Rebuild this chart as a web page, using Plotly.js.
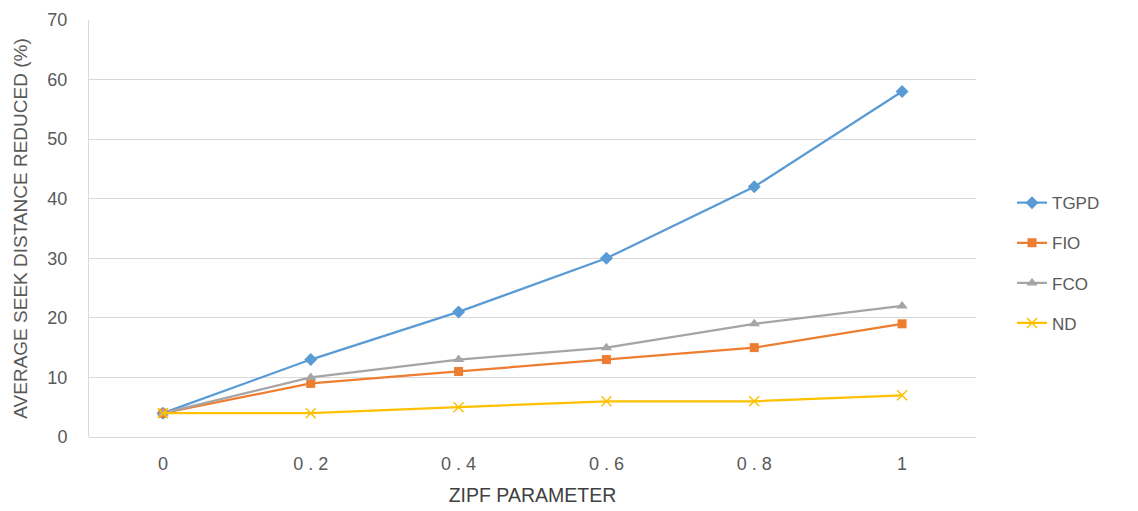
<!DOCTYPE html>
<html>
<head>
<meta charset="utf-8">
<script src="https://cdn.plot.ly/plotly-3.0.1.min.js"></script>
<style>html,body{margin:0;padding:0;background:#fff;}#chart{width:1138px;height:511px;}</style>
</head>
<body>
<div id="chart"></div>
<script>
const categories = ["0", "0 . 2", "0 . 4", "0 . 6", "0 . 8", "1"];
const tgpd = [4, 13, 21, 30, 42, 58];
const fio  = [4, 9, 11, 13, 15, 19];
const fco  = [4, 10, 13, 15, 19, 22];
const nd   = [4, 4, 5, 6, 6, 7];

const mk = (name, y, color, symbol, size, grp) => ({
  type: 'scatter', mode: 'lines+markers', name: name, x: categories, y: y,
  legendgroup: grp,
  line: {color: color, width: 2.25},
  marker: {color: color, symbol: symbol, size: size, line: {color: color, width: symbol.startsWith('x') ? 1.5 : 0}}
});

const data = [
  mk('TGPD', tgpd, '#5B9BD5', 'diamond', 10, 'a'),
  mk('FIO', fio, '#ED7D31', 'square', 9, 'b'),
  mk('FCO', fco, '#A5A5A5', 'triangle-up', 10, 'c'),
  mk('ND', nd, '#FFC000', 'x-thin', 10, 'd')
];

const layout = {
  width: 1138, height: 511,
  margin: {l: 89, r: 162, t: 20, b: 74},
  paper_bgcolor: '#fff', plot_bgcolor: '#fff',
  font: {family: 'Liberation Sans, Arial, sans-serif', color: '#595959', size: 17},
  xaxis: {
    type: 'category', range: [-0.5, 5.5], showgrid: false, zeroline: false, showline: false,
    ticks: '', ticklabelstandoff: 14, tickfont: {size: 18, color: '#595959'},
    title: {text: 'ZIPF PARAMETER', font: {size: 19.5, color: '#404040'}, standoff: 15}
  },
  yaxis: {
    range: [0, 70], dtick: 10, showgrid: true, gridcolor: '#D9D9D9', gridwidth: 1,
    zeroline: true, zerolinecolor: '#D9D9D9', zerolinewidth: 1,
    showline: true, linecolor: '#D9D9D9', linewidth: 1,
    ticks: '', ticklabelstandoff: 17, tickfont: {size: 18, color: '#595959'},
    title: {text: 'AVERAGE SEEK DISTANCE REDUCED (%)', font: {size: 19, color: '#595959'}, standoff: 14}
  },
  legend: {
    x: 1.0406, xanchor: 'left', y: 0.604, yanchor: 'top',
    font: {size: 17, color: '#595959'}, traceorder: 'grouped', tracegroupgap: 15,
    bgcolor: 'rgba(0,0,0,0)'
  },
  showlegend: true
};

Plotly.newPlot('chart', data, layout, {displayModeBar: false, staticPlot: true});
</script>
</body>
</html>
